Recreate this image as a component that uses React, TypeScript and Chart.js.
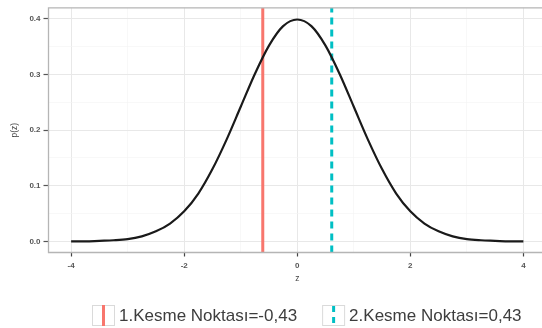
import { useEffect, useRef } from "react";
import { Chart, registerables } from "chart.js";

Chart.register(...registerables);

// ---- data ----
const zValues = [
  -4, -3.75, -3.5, -3.25, -3, -2.75, -2.5, -2.25, -2, -1.75, -1.5, -1.25, -1, -0.75, -0.5, -0.25,
  0, 0.25, 0.5, 0.75, 1, 1.25, 1.5, 1.75, 2, 2.25, 2.5, 2.75, 3, 3.25, 3.5, 3.75, 4,
];
const density = [
  0.0, 0.0, 0.001, 0.002, 0.004, 0.009, 0.018, 0.032, 0.054, 0.086, 0.13, 0.183, 0.242, 0.301, 0.352, 0.387,
  0.399, 0.387, 0.352, 0.301, 0.242, 0.183, 0.13, 0.086, 0.054, 0.032, 0.018, 0.009, 0.004, 0.002, 0.001, 0.0, 0.0,
];
const cutPoints = [-0.61, 0.61];
const cutLabels = ["1.Kesme Noktası=-0,43", "2.Kesme Noktası=0,43"];
const cutColors = ["#F8766D", "#00BFC4"];
const xMajorTicks = [-4, -2, 0, 2, 4];
const xMinorTicks = [-3, -1, 1, 3];
const yMajorTicks = [0, 0.1, 0.2, 0.3, 0.4];
const yMinorTicks = [0.05, 0.15, 0.25, 0.35];
const X_MIN = -4.4;
const X_MAX = 4.4;
const Y_MIN = -0.02;
const Y_MAX = 0.42;

const FONT = "'Liberation Sans', Arial, sans-serif";

const isMinor = (list: number[], v: number) => list.some((m) => Math.abs(m - v) < 1e-9);

const panelBorder = {
  id: "panelBorder",
  afterDatasetsDraw(chart: any) {
    const { ctx, chartArea } = chart;
    const { left, right, top, bottom } = chartArea;
    ctx.save();
    ctx.strokeStyle = "#b5b5b5";
    ctx.lineWidth = 1.3;
    ctx.beginPath();
    ctx.moveTo(right, top);
    ctx.lineTo(left, top);
    ctx.lineTo(left, bottom);
    ctx.lineTo(right, bottom);
    ctx.stroke();
    ctx.restore();
  },
};

const cutLegend = {
  id: "cutLegend",
  afterDraw(chart: any) {
    const { ctx } = chart;
    ctx.save();
    ctx.font = `17px ${FONT}`;
    ctx.textBaseline = "middle";
    ctx.textAlign = "left";
    let x = 92;
    const top = 305;
    const boxW = 23;
    const boxH = 21;
    const cy = top + boxH / 2;
    cutLabels.forEach((label, i) => {
      ctx.fillStyle = "#ffffff";
      ctx.fillRect(x, top, boxW, boxH);
      ctx.strokeStyle = "#dadada";
      ctx.lineWidth = 1;
      ctx.strokeRect(x + 0.5, top + 0.5, boxW - 1, boxH - 1);
      ctx.strokeStyle = cutColors[i];
      ctx.lineWidth = 3;
      ctx.setLineDash(i === 1 ? [6, 5] : []);
      ctx.beginPath();
      ctx.moveTo(x + boxW / 2, i === 1 ? top + 1 : top);
      ctx.lineTo(x + boxW / 2, top + boxH);
      ctx.stroke();
      ctx.setLineDash([]);
      ctx.fillStyle = "#3d3d3d";
      ctx.fillText(label, x + 27, cy + 1);
      x += 27 + ctx.measureText(label).width + 25;
    });
    ctx.restore();
  },
};

export default function App() {
  const ref = useRef<HTMLCanvasElement | null>(null);

  useEffect(() => {
    if (!ref.current) return;
    const chart = new Chart(ref.current, {
      type: "line",
      data: {
        datasets: [
          {
            label: "p(z)",
            data: zValues.map((z, i) => ({ x: z, y: density[i] })),
            borderColor: "#1a1a1a",
            borderWidth: 2.2,
            pointRadius: 0,
            cubicInterpolationMode: "monotone",
            fill: false,
          },
          ...cutPoints.map((c, i) => ({
            label: cutLabels[i],
            data: [
              { x: c, y: Y_MIN },
              { x: c, y: Y_MAX },
            ],
            borderColor: cutColors[i],
            borderWidth: 3,
            borderDash: i === 1 ? [7, 5] : [],
            pointRadius: 0,
            fill: false,
          })),
        ],
      },
      options: {
        animation: false,
        responsive: false,
        layout: { padding: { left: 6, top: 7, right: 14, bottom: 40 } },
        plugins: { legend: { display: false }, tooltip: { enabled: false } },
        scales: {
          x: {
            type: "linear",
            min: X_MIN,
            max: X_MAX,
            afterBuildTicks: (scale: any) => {
              scale.ticks = [...xMajorTicks, ...xMinorTicks].sort((a, b) => a - b).map((v) => ({ value: v }));
            },
            afterFit: (scale: any) => {
              scale.height = 35.5;
            },
            border: { display: false },
            grid: {
              color: (c: any) => (isMinor(xMinorTicks, c.tick?.value) ? "#f3f3f3" : "#e8e8e8"),
              lineWidth: (c: any) => (isMinor(xMinorTicks, c.tick?.value) ? 0.6 : 1),
              tickColor: (c: any) => (isMinor(xMinorTicks, c.tick?.value) ? "rgba(0,0,0,0)" : "#444"),
              tickLength: 4,
              tickWidth: 1.2,
            },
            ticks: {
              autoSkip: false,
              maxRotation: 0,
              padding: 4,
              color: "#555",
              font: { family: FONT, size: 8, weight: "bold" },
              callback: (v: any) => (isMinor(xMinorTicks, Number(v)) ? "" : String(v)),
            },
            title: {
              display: true,
              text: "z",
              color: "#444",
              font: { family: FONT, size: 8.5 },
              padding: { top: 0, bottom: 4 },
            },
          },
          y: {
            type: "linear",
            min: Y_MIN,
            max: Y_MAX,
            afterBuildTicks: (scale: any) => {
              scale.ticks = [...yMajorTicks, ...yMinorTicks].sort((a, b) => a - b).map((v) => ({ value: v }));
            },
            afterFit: (scale: any) => {
              scale.width = 42.5;
            },
            border: { display: false },
            grid: {
              color: (c: any) => (isMinor(yMinorTicks, c.tick?.value) ? "#f3f3f3" : "#e8e8e8"),
              lineWidth: (c: any) => (isMinor(yMinorTicks, c.tick?.value) ? 0.6 : 1),
              tickColor: (c: any) => (isMinor(yMinorTicks, c.tick?.value) ? "rgba(0,0,0,0)" : "#555"),
              tickLength: 5,
              tickWidth: 1.2,
            },
            ticks: {
              autoSkip: false,
              padding: 3,
              color: "#555",
              font: { family: FONT, size: 8, weight: "bold" },
              callback: (v: any) => (isMinor(yMinorTicks, Number(v)) ? "" : Number(v).toFixed(1)),
            },
            title: {
              display: true,
              text: "p(z)",
              color: "#444",
              font: { family: FONT, size: 8.5 },
              padding: { top: 4, bottom: 0 },
            },
          },
        },
      },
      plugins: [panelBorder, cutLegend],
    } as any);
    return () => chart.destroy();
  }, []);

  return (
    <div
      style={{
        position: "absolute",
        left: 0,
        top: 0,
        width: 542,
        height: 328,
        overflow: "hidden",
        background: "#ffffff",
      }}
    >
      <canvas ref={ref} width={560} height={328} style={{ display: "block" }} />
    </div>
  );
}
